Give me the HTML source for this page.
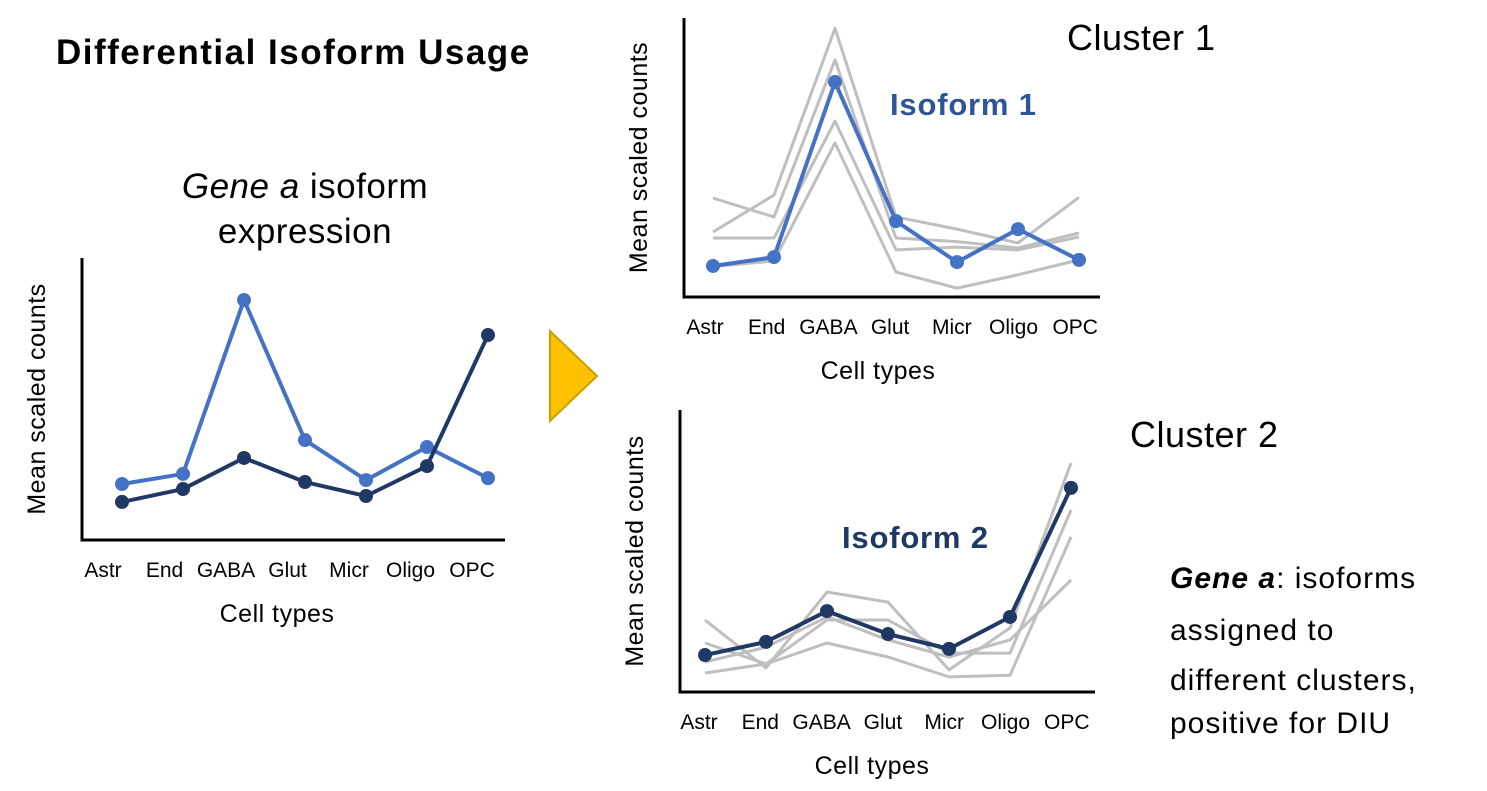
<!DOCTYPE html>
<html><head><meta charset="utf-8"><style>
body{margin:0;background:#fff;width:1487px;height:786px;overflow:hidden}
svg{font-family:"Liberation Sans",sans-serif}
</style></head><body>
<svg id="s" width="1487" height="786" xmlns="http://www.w3.org/2000/svg">
<text x="56" y="64" font-size="35" font-weight="bold" letter-spacing="1.5">Differential Isoform Usage</text>
<text x="305" y="198" font-size="35" text-anchor="middle" letter-spacing="0.5"><tspan font-style="italic">Gene a</tspan> isoform</text>
<text x="305" y="243" font-size="35" text-anchor="middle" letter-spacing="0.5">expression</text>
<text x="1067" y="50" font-size="36" letter-spacing="0.5">Cluster 1</text>
<text x="1130" y="447" font-size="36" letter-spacing="0.5">Cluster 2</text>
<text x="890" y="115" font-size="31" font-weight="bold" fill="#2F5597" letter-spacing="0.8">Isoform 1</text>
<text x="842" y="548" font-size="31" font-weight="bold" fill="#1F3864" letter-spacing="0.8">Isoform 2</text>
<polygon points="550,331 597,376 550,421" fill="#FFC000" stroke="#C9A000" stroke-width="2"/>
<g font-size="30" letter-spacing="1">
<text x="1170" y="588"><tspan font-weight="bold" font-style="italic">Gene a</tspan>: isoforms</text>
<text x="1170" y="640">assigned to</text>
<text x="1170" y="690">different clusters,</text>
<text x="1170" y="733">positive for DIU</text>
</g>
</svg>
<script>
const categories=["Astr","End","GABA","Glut","Micr","Oligo","OPC"];
const leftIso1=[20,23.6,85.7,35.7,21.4,33.2,22.1];
const leftIso2=[13.6,18.2,29.3,20.7,15.7,26.4,73.2];
const c1Blue=[11.2,14.4,77.6,27.4,12.6,24.5,13.4];
const c1Gray1=[23.5,36.8,97,28.9,24.5,19.5,36];
const c1Gray2=[35.7,28.9,85.6,21.3,20,17.7,23.1];
const c1Gray3=[21.3,21.3,63.5,17,18,17,21.7];
const c1Gray4=[11,13,55.6,9,3.2,8,13.4];
const c2Dark=[13.2,17.9,28.9,20.7,15.4,26.8,72.9];
const c2Gray1=[25.7,8.6,35.7,32.1,7.9,22.9,81.8];
const c2Gray2=[17.5,10,25.7,25.7,13.9,13.9,65];
const c2Gray3=[6.8,10,17.5,12.5,5.4,6,55.4];
const c2Gray4=[10.7,16,26.8,18.6,12.5,18.6,40];

const NS="http://www.w3.org/2000/svg",S=document.getElementById('s');
function mk(t,a,p){const e=document.createElementNS(NS,t);for(const k in a)e.setAttribute(k,a[k]);(p||S).appendChild(e);return e;}
function chart(cfg){
  const g=mk('g',{});
  
  
  const x=i=>cfg.x0+cfg.dx*i, y=v=>cfg.yb-v*cfg.k;
  const ax=mk('path',{d:`M${cfg.ax},${cfg.yt}V${cfg.yb}H${cfg.xr}`,fill:'none',stroke:'#000','stroke-width':3},g);
  
  
  cfg.series.forEach(s=>{
    const pl=mk('polyline',{points:s.v.map((v,i)=>x(i)+','+y(v)).join(' '),fill:'none',stroke:s.c,'stroke-width':s.w,'stroke-linejoin':'round'},g);
    
    
    if(s.dot)s.v.forEach((v,i)=>{const c=mk('circle',{cx:x(i),cy:y(v),r:7,fill:s.c},g);
      
      });
  });
  categories.forEach((c,i)=>{const t=mk('text',{x:cfg.lx0+cfg.ldx*i,y:cfg.yb+37,'font-size':21,'text-anchor':'middle'},g);t.textContent=c;
    
    });
  const xt=mk('text',{x:cfg.xtx,y:cfg.yb+82,'font-size':25,'text-anchor':'middle','letter-spacing':0.5},g);xt.textContent='Cell types';
  
  
  const yt=mk('text',{transform:`translate(${cfg.ax-37},${(cfg.yt+cfg.yb)/2}) rotate(-90)`,'font-size':25,'text-anchor':'middle','letter-spacing':0.5},g);yt.textContent='Mean scaled counts';
  
  
}
const G='#BFBFBF';
chart({name:'left-chart',ax:82,yt:258,yb:540,xr:505,x0:122,dx:61,k:2.8,lx0:103,ldx:61.5,xtx:277,
 series:[{n:'isoform-1-line',v:leftIso1,c:'#4472C4',w:4,dot:1},{n:'isoform-2-line',v:leftIso2,c:'#203864',w:4,dot:1}]});
chart({name:'cluster-1-chart',ax:684,yt:18,yb:297,xr:1100,x0:713,dx:61,k:2.77,lx0:705,ldx:61.7,xtx:878,
 series:[{n:'gray-line',v:c1Gray1,c:G,w:3},{n:'gray-line',v:c1Gray2,c:G,w:3},{n:'gray-line',v:c1Gray3,c:G,w:3},{n:'gray-line',v:c1Gray4,c:G,w:3},{n:'isoform-1-line',v:c1Blue,c:'#4472C4',w:4,dot:1}]});
chart({name:'cluster-2-chart',ax:680,yt:410,yb:692,xr:1095,x0:705,dx:61,k:2.8,lx0:699,ldx:61.3,xtx:872,
 series:[{n:'gray-line',v:c2Gray1,c:G,w:3},{n:'gray-line',v:c2Gray2,c:G,w:3},{n:'gray-line',v:c2Gray3,c:G,w:3},{n:'gray-line',v:c2Gray4,c:G,w:3},{n:'isoform-2-line',v:c2Dark,c:'#203864',w:4,dot:1}]});
</script>
</body></html>
